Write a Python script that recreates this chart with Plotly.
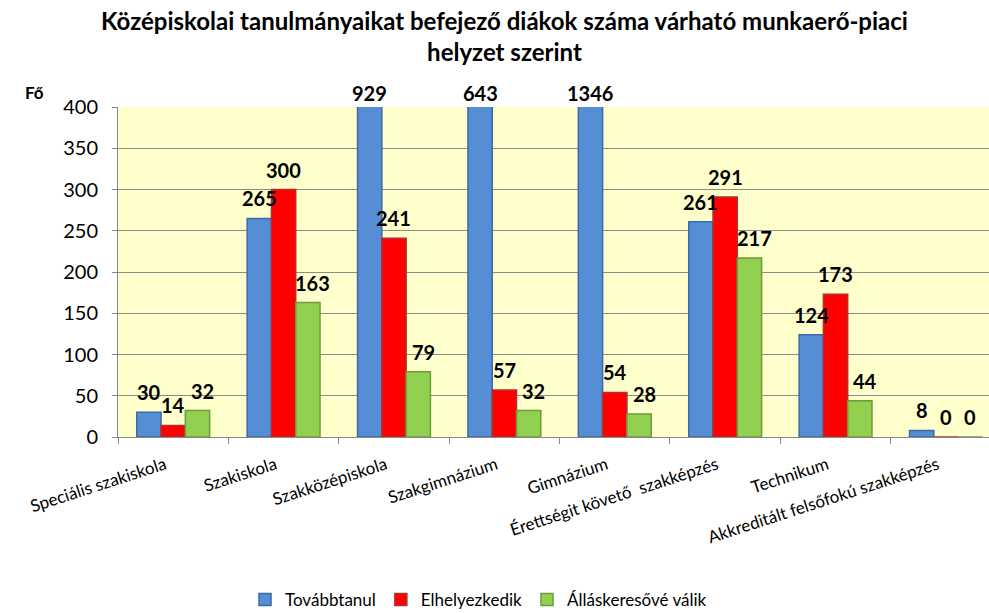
import plotly.graph_objects as go

categories = ["Speciális szakiskola", "Szakiskola", "Szakközépiskola", "Szakgimnázium",
              "Gimnázium", "Érettségit követő  szakképzés", "Technikum",
              "Akkreditált felsőfokú szakképzés"]
tovabbtanul = [30, 265, 929, 643, 1346, 261, 124, 8]
elhelyezkedik = [14, 300, 241, 57, 54, 291, 173, 0]
allaskereso = [32, 163, 79, 32, 28, 217, 44, 0]

series = [
    ("Továbbtanul", tovabbtanul, "#558ED5", "#3B6AA8", 0),
    ("Elhelyezkedik", elhelyezkedik, "#FF0000", "#B03030", 0),
    ("Álláskeresővé válik", allaskereso, "#92D050", "#6F9A3C", 5),
]

FONT = "Lato"
YMAX = 400
W, H = 989, 613
L, R, T, B = 118, 0, 107, 613 - 437
PW, PH = W - L - R, H - T - B


def px(x):
    return (x - L) / PW


def py(y):
    return (H - B - y) / PH


fig = go.Figure()
for name, vals, col, edge, _ in series:
    fig.add_trace(go.Bar(x=categories, y=vals, name=name,
                         marker=dict(color=col, line=dict(color=edge, width=1.5))))

bargap = 0.34
bw = (1 - bargap) / 3
annotations = []
for j, (name, vals, col, edge, xs) in enumerate(series):
    for i, v in enumerate(vals):
        yv = min(v, YMAX)
        annotations.append(dict(x=i + (j - 1) * bw, y=yv, xref="x", yref="y",
                                text="<b>%d</b>" % v, showarrow=False, yanchor="bottom",
                                xshift=xs if v > 0 else 0, yshift=0 if v > YMAX else 6,
                                font=dict(family=FONT, size=20, color="black")))

annotations.append(dict(x=px(504), y=py(36), xref="paper", yref="paper",
                        text="<b>Középiskolai tanulmányaikat befejező diákok száma várható munkaerő-piaci<br>helyzet szerint</b>",
                        showarrow=False, xanchor="center", yanchor="middle", align="center",
                        font=dict(family=FONT, size=24, color="black")))
annotations.append(dict(x=px(34), y=py(93), xref="paper", yref="paper",
                        text="<b>Fő</b>", showarrow=False, xanchor="center", yanchor="middle",
                        font=dict(family=FONT, size=17, color="black")))

fig.update_layout(
    width=W, height=H,
    margin=dict(l=L, r=R, t=T, b=B, autoexpand=False),
    paper_bgcolor="white", plot_bgcolor="#FFFFCC",
    barmode="group", bargap=bargap, bargroupgap=0,
    font=dict(family=FONT, size=17, color="black"),
    annotations=annotations,
    legend=dict(orientation="h", x=px(245), xanchor="left", y=py(600), yanchor="middle",
                font=dict(family=FONT, size=17), itemwidth=30, tracegroupgap=0),
    showlegend=True,
)
fig.update_xaxes(range=[-0.5, 7.39], showgrid=False, showline=True, linecolor="#888888",
                 ticks="outside", tickson="boundaries", ticklen=6, tickcolor="#888888",
                 tickangle=-18, tickfont=dict(family=FONT, size=17), automargin=False,
                 ticklabelstandoff=8,
                 tickvals=categories, ticktext=[c + "\u00a0\u00a0" for c in categories])
fig.update_yaxes(range=[0, YMAX], dtick=50, showgrid=True, gridcolor="#8C8C8C", gridwidth=1,
                 showline=True, linecolor="#888888", ticks="outside", ticklen=5,
                 tickcolor="#888888", tickfont=dict(family=FONT, size=20), zeroline=False,
                 automargin=False, ticklabelstandoff=10)

fig.write_html("out.html", config={"displayModeBar": False},
               post_script="document.body.style.margin='0';document.body.style.padding='0';")
